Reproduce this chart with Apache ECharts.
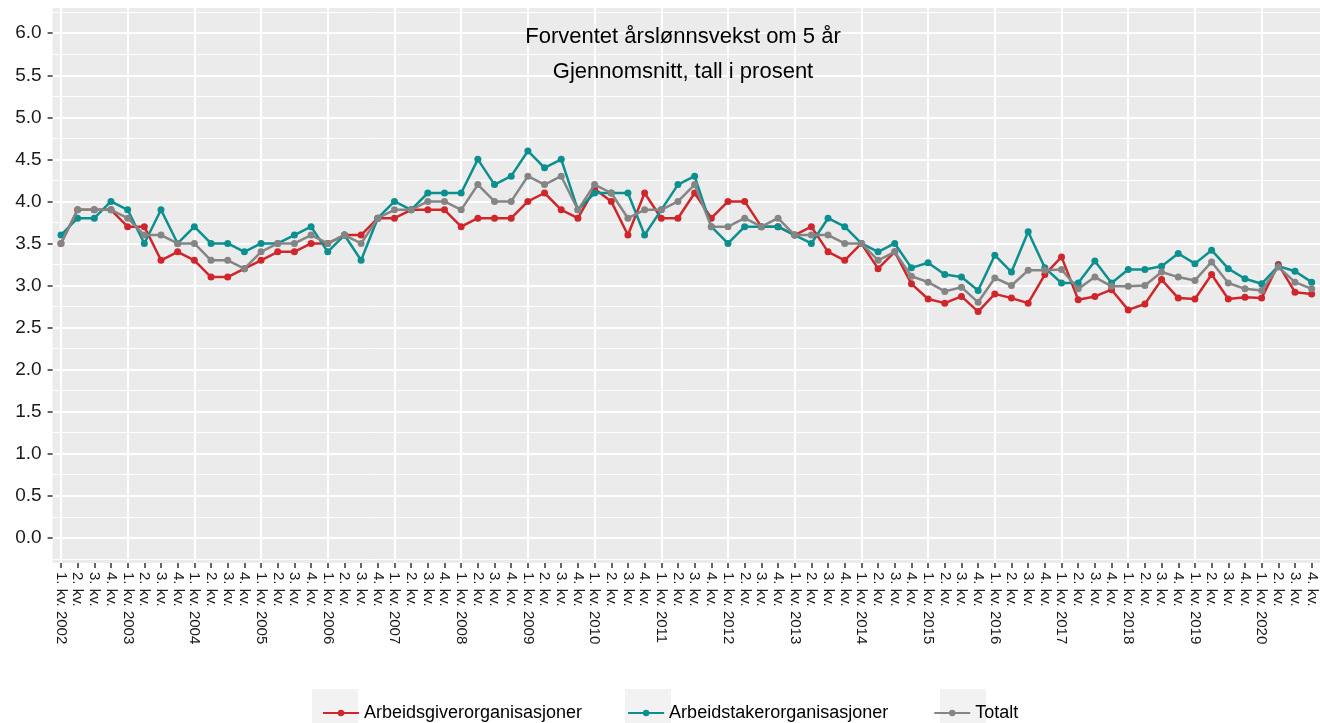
<!DOCTYPE html>
<html>
<head>
<meta charset="utf-8">
<title>Forventet årslønnsvekst om 5 år</title>
<script src="https://cdn.jsdelivr.net/npm/echarts@6/dist/echarts.min.js"></script>
<style>
  html, body { margin: 0; padding: 0; background: #fff; }
  #chart { width: 1320px; height: 723px; }
</style>
</head>
<body>
<div id="chart"></div>
<script>
// ---- data ----
const years = [2002, 2003, 2004, 2005, 2006, 2007, 2008, 2009, 2010, 2011,
  2012, 2013, 2014, 2015, 2016, 2017, 2018, 2019, 2020];
const quarters = ['1. kv.', '2. kv.', '3. kv.', '4. kv.'];

const arbeidsgiver = [
  3.5, 3.9, 3.9, 3.9,   3.7, 3.7, 3.3, 3.4,   3.3, 3.1, 3.1, 3.2,
  3.3, 3.4, 3.4, 3.5,   3.5, 3.6, 3.6, 3.8,   3.8, 3.9, 3.9, 3.9,
  3.7, 3.8, 3.8, 3.8,   4.0, 4.1, 3.9, 3.8,   4.15, 4.0, 3.6, 4.1,
  3.8, 3.8, 4.1, 3.8,   4.0, 4.0, 3.7, 3.7,   3.6, 3.7, 3.4, 3.3,
  3.5, 3.2, 3.4, 3.02,  2.84, 2.79, 2.87, 2.69, 2.90, 2.85, 2.79, 3.13,
  3.34, 2.83, 2.87, 2.95, 2.71, 2.78, 3.07, 2.85, 2.84, 3.13, 2.84, 2.86,
  2.85, 3.25, 2.92, 2.90
];
const arbeidstaker = [
  3.6, 3.8, 3.8, 4.0,   3.9, 3.5, 3.9, 3.5,   3.7, 3.5, 3.5, 3.4,
  3.5, 3.5, 3.6, 3.7,   3.4, 3.6, 3.3, 3.8,   4.0, 3.9, 4.1, 4.1,
  4.1, 4.5, 4.2, 4.3,   4.6, 4.4, 4.5, 3.9,   4.1, 4.1, 4.1, 3.6,
  3.9, 4.2, 4.3, 3.7,   3.5, 3.7, 3.7, 3.7,   3.6, 3.5, 3.8, 3.7,
  3.5, 3.4, 3.5, 3.21,  3.27, 3.13, 3.10, 2.94, 3.36, 3.16, 3.64, 3.21,
  3.03, 3.03, 3.29, 3.03, 3.19, 3.19, 3.23, 3.38, 3.26, 3.42, 3.20, 3.08,
  3.02, 3.23, 3.17, 3.04
];
const totalt = [
  3.5, 3.9, 3.9, 3.9,   3.8, 3.6, 3.6, 3.5,   3.5, 3.3, 3.3, 3.2,
  3.4, 3.5, 3.5, 3.6,   3.5, 3.6, 3.5, 3.8,   3.9, 3.9, 4.0, 4.0,
  3.9, 4.2, 4.0, 4.0,   4.3, 4.2, 4.3, 3.9,   4.2, 4.1, 3.8, 3.9,
  3.9, 4.0, 4.2, 3.7,   3.7, 3.8, 3.7, 3.8,   3.6, 3.6, 3.6, 3.5,
  3.5, 3.3, 3.4, 3.11,  3.04, 2.93, 2.98, 2.80, 3.09, 3.00, 3.18, 3.18,
  3.19, 2.96, 3.10, 2.99, 2.99, 3.00, 3.16, 3.10, 3.06, 3.28, 3.03, 2.96,
  2.94, 3.22, 3.04, 2.96
];

const yTicks = [0, 0.5, 1, 1.5, 2, 2.5, 3, 3.5, 4, 4.5, 5, 5.5, 6];
const yMinor = [-0.25, 0.25, 0.75, 1.25, 1.75, 2.25, 2.75, 3.25, 3.75,
  4.25, 4.75, 5.25, 5.75, 6.25];

// category labels: "1. kv. 2002", "2. kv.", ...
const categories = [];
years.forEach(y => {
  quarters.forEach((q, i) => categories.push(i === 0 ? q + ' ' + y : q));
});

const colors = ['#d0262b', '#0b8f8f', '#858585'];
const names = ['Arbeidsgiverorganisasjoner', 'Arbeidstakerorganisasjoner', 'Totalt'];
const values = [arbeidsgiver, arbeidstaker, totalt];

// ---- chart ----
const chart = echarts.init(document.getElementById('chart'), null, { renderer: 'canvas' });

const option = {
  animation: false,
  textStyle: { fontFamily: 'Arial, "Liberation Sans", sans-serif' },
  title: {
    text: 'Forventet årslønnsvekst om 5 år\nGjennomsnitt, tall i prosent',
    left: 683,
    top: 19,
    padding: 0,
    textAlign: 'center',
    textStyle: {
      fontSize: 22,
      fontWeight: 'normal',
      color: '#000',
      lineHeight: 35
    }
  },
  legend: {
    top: 699,
    left: 317,
    itemGap: 45,
    itemWidth: 36,
    itemHeight: 8,
    textStyle: { fontSize: 18, color: '#000' },
    data: names
  },
  graphic: [
    { type: 'rect', shape: { x: 312, y: 689, width: 46, height: 34 }, style: { fill: '#f2f2f2' }, z: -1 },
    { type: 'rect', shape: { x: 625, y: 689, width: 46, height: 34 }, style: { fill: '#f2f2f2' }, z: -1 },
    { type: 'rect', shape: { x: 940, y: 689, width: 46, height: 34 }, style: { fill: '#f2f2f2' }, z: -1 }
  ],
  grid: {
    left: 52.6,
    top: 8,
    width: 1274,
    height: 555,
    show: true,
    backgroundColor: '#ebebeb',
    borderWidth: 0
  },
  xAxis: {
    type: 'category',
    data: categories,
    boundaryGap: true,
    axisLine: { show: false, onZero: false },
    axisTick: {
      show: true,
      alignWithLabel: true,
      interval: 0,
      length: 5,
      lineStyle: { color: '#333', width: 1.5 }
    },
    axisLabel: {
      interval: 0,
      rotate: -90,
      margin: 9,
      fontSize: 15,
      color: '#1a1a1a'
    },
    splitLine: {
      show: true,
      alignWithLabel: true,
      interval: (i) => i % 4 === 0,
      lineStyle: { color: '#fff', width: 2 }
    }
  },
  yAxis: [
    {
      type: 'value',
      min: -0.3,
      max: 6.3,
      axisLine: { show: false },
      axisTick: {
        show: true,
        length: 5,
        customValues: yTicks,
        lineStyle: { color: '#333', width: 1.5 }
      },
      axisLabel: {
        customValues: yTicks,
        margin: 11,
        fontSize: 19,
        color: '#1a1a1a',
        formatter: (v) => v.toFixed(1)
      },
      splitLine: { show: true, lineStyle: { color: '#fff', width: 2 } }
    },
    {
      type: 'value',
      min: -0.3,
      max: 6.3,
      position: 'left',
      axisLine: { show: false },
      axisLabel: { show: false },
      axisTick: { show: false, customValues: yMinor },
      splitLine: { show: true, lineStyle: { color: '#fff', width: 1 } }
    }
  ],
  series: names.map((n, k) => ({
    name: n,
    type: 'line',
    yAxisIndex: 0,
    data: values[k],
    color: colors[k],
    symbol: 'circle',
    symbolSize: 7,
    showSymbol: true,
    lineStyle: { width: 2.5, color: colors[k] },
    itemStyle: { color: colors[k] },
    z: 2 + k
  }))
};

chart.setOption(option);
</script>
</body>
</html>
